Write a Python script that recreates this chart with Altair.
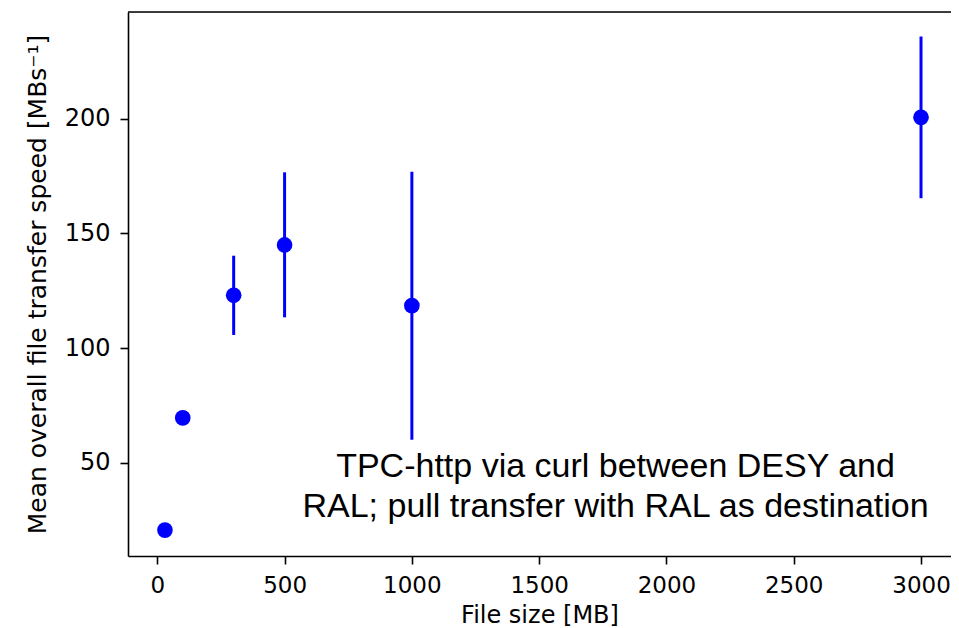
import altair as alt
import pandas as pd

# Values
file_size = [30, 100, 300, 500, 1000, 3000]          # MB
mean_speed = [20.5, 69.5, 123.0, 145.0, 118.5, 200.7]  # MB/s
err_low = [0.0, 0.0, 17.3, 31.6, 58.5, 35.3]
err_high = [0.0, 0.0, 17.3, 31.7, 58.5, 35.3]
x_ticks = [0, 500, 1000, 1500, 2000, 2500, 3000]
y_ticks = [50, 100, 150, 200]
note_lines = ["TPC-http via curl between DESY and",
              "RAL; pull transfer with RAL as destination"]
note_pos = {"x": [1800], "y": [43.5]}

df = pd.DataFrame({"size": file_size, "speed": mean_speed,
                   "lo_err": err_low, "hi_err": err_high})
df["lo"] = df["speed"] - df["lo_err"]
df["hi"] = df["speed"] + df["hi_err"]
err_df = df[(df["lo_err"] > 0) | (df["hi_err"] > 0)]

W, H = 823, 544
BLUE = "#0000ff"

xscale = alt.Scale(domain=[-115.1, 3117.8], nice=False, zero=False)
yscale = alt.Scale(domain=[9.2, 246.7], nice=False, zero=False)

axis_common = dict(grid=False, tickSize=8, tickWidth=1.6, tickColor="black",
                   domainColor="black", domainWidth=1.6,
                   labelFont="DejaVu Sans", labelColor="black",
                   titleFont="DejaVu Sans", titleColor="black",
                   titleFontWeight="normal", labelPadding=10, format="d")

x_axis = alt.Axis(values=x_ticks, title="File size [MB]", titlePadding=6,
                  labelFontSize=23, titleFontSize=24, labelFlush=False,
                  labelOverlap=False, **axis_common)
y_axis = alt.Axis(values=y_ticks, title="Mean overall file transfer speed [MBs⁻¹]",
                  titlePadding=14, labelFontSize=24, titleFontSize=25,
                  labelOverlap=False, **axis_common)

base = alt.Chart(df)

points = base.mark_circle(size=245, color=BLUE, opacity=1).encode(
    x=alt.X("size:Q", scale=xscale, axis=x_axis),
    y=alt.Y("speed:Q", scale=yscale, axis=y_axis),
)

bars = alt.Chart(err_df).mark_rule(color=BLUE, strokeWidth=3, strokeCap="butt").encode(
    x=alt.X("size:Q", scale=xscale),
    y=alt.Y("lo:Q", scale=yscale),
    y2="hi:Q",
)

note = alt.Chart(pd.DataFrame(note_pos)).mark_text(
    text=note_lines, font="Liberation Sans", fontSize=34, lineHeight=40,
    align="center", baseline="alphabetic", color="black",
).encode(
    x=alt.X("x:Q", scale=xscale),
    y=alt.Y("y:Q", scale=yscale),
)

top_spine = alt.Chart(pd.DataFrame({"a": [0]})).mark_rule(
    color="black", strokeWidth=1.6
).encode(x=alt.value(0), x2=alt.value(W), y=alt.value(0))

chart = alt.layer(bars, points, note, top_spine).properties(
    width=W, height=H,
    padding={"left": 120, "top": 4, "right": 0, "bottom": 72},
    autosize=alt.AutoSizeParams(type="none"),
).configure_view(stroke=None).configure(background="white")

chart.save("out.html", embed_options={"renderer": "svg", "actions": False})
